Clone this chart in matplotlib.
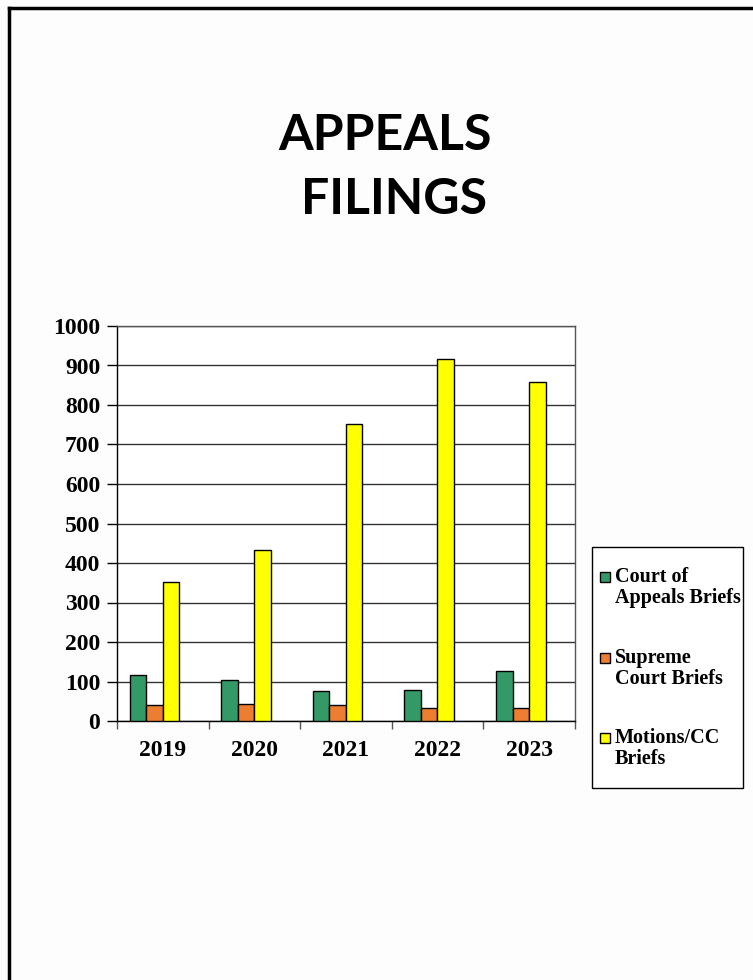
import numpy as np
import matplotlib.pyplot as plt
from matplotlib.lines import Line2D
from matplotlib.patches import Rectangle

years = ["2019", "2020", "2021", "2022", "2023"]
court_of_appeals = [116, 104, 75, 79, 126]
supreme_court = [40, 44, 41, 33, 33]
motions_cc = [352, 433, 751, 916, 858]

series_names = ["Court of\nAppeals Briefs", "Supreme\nCourt Briefs", "Motions/CC\nBriefs"]
series_colors = ["#339966", "#ED7D31", "#FFFF00"]

W, H = 753, 980
fig = plt.figure(figsize=(W / 100, H / 100), dpi=100)
fig.patch.set_facecolor("#FDFDFD")

def fx(px):
    return px / W

def fy(py):
    return 1 - py / H

# page frame (only top and left edges show)
fig.add_artist(Line2D([fx(9), fx(9)], [0, fy(8)], color="black", lw=2.5))
fig.add_artist(Line2D([fx(9), 1], [fy(8), fy(8)], color="black", lw=2.5))

# title
fig.text(fx(385), fy(136), "APPEALS", ha="center", va="center",
         fontsize=36, fontweight="bold", family="Lato")
fig.text(fx(394), fy(199), "FILINGS", ha="center", va="center",
         fontsize=36, fontweight="bold", family="Lato")

ax = fig.add_axes([fx(117), fy(721), fx(575 - 117), (721 - 326) / H])
ax.set_facecolor("white")

x = np.arange(len(years))
width = 0.18
offsets = [-0.272, -0.092, 0.088]
all_series = [court_of_appeals, supreme_court, motions_cc]

for vals, off, col in zip(all_series, offsets, series_colors):
    ax.bar(x + 0.5 + off, vals, width, color=col, edgecolor="black",
           linewidth=1.0, zorder=3)

ax.set_xlim(0, len(years))
ax.set_ylim(0, 1000)
ax.set_yticks(np.arange(0, 1001, 100))
ax.yaxis.grid(True, color="#333333", linewidth=1.0, zorder=0)

ax.set_xticks(np.arange(0, len(years) + 1))
ax.set_xticklabels([])
ax.set_xticks(x + 0.5, minor=True)
ax.set_xticklabels(years, minor=True)
ax.tick_params(axis="x", which="minor", length=0, pad=14)
ax.tick_params(axis="x", which="major", length=6, width=1, color="#555555")
ax.tick_params(axis="y", length=7, width=1, pad=5)

for lab in ax.get_yticklabels() + ax.get_xticklabels(minor=True):
    lab.set_family("Liberation Serif")
    lab.set_fontweight("bold")
    lab.set_fontsize(17)

for s in ax.spines.values():
    s.set_color("#555555")
    s.set_linewidth(1.0)
ax.spines["left"].set_color("black")
ax.spines["bottom"].set_color("black")

# legend box drawn by hand to match the frame size
fig.add_artist(Rectangle((fx(592), fy(788)), fx(743 - 592), (788 - 547) / H,
                         transform=fig.transFigure, facecolor="white",
                         edgecolor="black", linewidth=1.0))
entry_y = [577, 658, 738]
for ey, col, name in zip(entry_y, series_colors, series_names):
    fig.add_artist(Rectangle((fx(600), fy(ey + 5)), fx(10), 10 / H,
                             transform=fig.transFigure, facecolor=col,
                             edgecolor="black", linewidth=1.0))
    fig.text(fx(615), fy(ey - 10), name, ha="left", va="top",
             family="Liberation Serif", fontweight="bold", fontsize=14.5,
             linespacing=1.08)

fig.savefig("out.png", dpi=100, facecolor=fig.get_facecolor())
